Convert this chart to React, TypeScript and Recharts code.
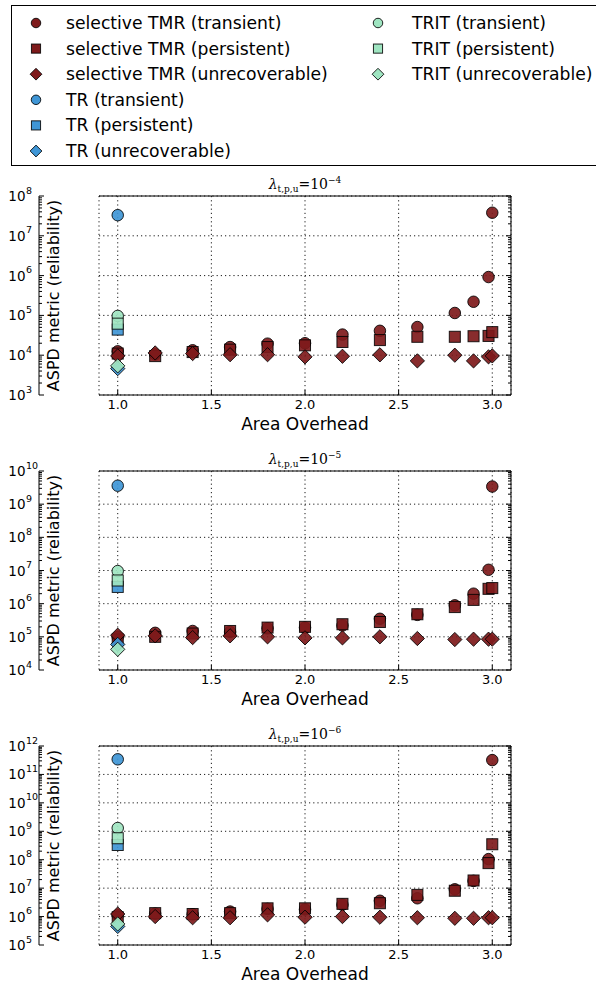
import React from 'react';
import { ScatterChart, Scatter, XAxis, YAxis, CartesianGrid } from 'recharts';

// x positions (area overhead)
const areaTMR = [1.0, 1.2, 1.4, 1.6, 1.8, 2.0, 2.2, 2.4, 2.6, 2.8, 2.9, 2.98, 3.0];
const areaBase = [1.0];
const xTicks = [1.0, 1.5, 2.0, 2.5, 3.0];
const xTickLabels = ['1.0', '1.5', '2.0', '2.5', '3.0'];

// lambda = 1e-4
const tmrTransient4 = [1.25e4, 1.05e4, 1.33e4, 1.6e4, 1.95e4, 2.0e4, 3.3e4, 4.1e4, 5.1e4, 1.15e5, 2.2e5, 9.2e5, 3.8e7];
const tmrPersistent4 = [1.1e4, 9.5e3, 1.2e4, 1.38e4, 1.6e4, 1.77e4, 2.15e4, 2.4e4, 2.9e4, 2.9e4, 3.0e4, 3.05e4, 3.8e4];
const tmrUnrec4 = [9.6e3, 1.14e4, 1.1e4, 1.03e4, 1.03e4, 9.1e3, 9.4e3, 1.02e4, 7.2e3, 1.0e4, 7.2e3, 9.1e3, 9.6e3];
const tr4 = [3.3e7, 4.4e4, 4.6e3];
const trit4 = [9.7e4, 6.2e4, 5.4e3];

// lambda = 1e-5
const tmrTransient5 = [1.0e5, 1.32e5, 1.5e5, 1.4e5, 1.8e5, 1.9e5, 2.2e5, 3.5e5, 4.6e5, 8.9e5, 2.0e6, 1.05e7, 3.4e9];
const tmrPersistent5 = [8.3e4, 1.0e5, 1.26e5, 1.5e5, 1.9e5, 2.0e5, 2.4e5, 2.8e5, 4.8e5, 7.9e5, 1.3e6, 2.8e6, 2.95e6];
const tmrUnrec5 = [1.12e5, 1.07e5, 9.5e4, 1.07e5, 1.0e5, 9.3e4, 9.3e4, 1.0e5, 8.9e4, 8.3e4, 8.5e4, 8.5e4, 8.5e4];
const tr5 = [3.6e9, 3.2e6, 5.9e4];
const trit5 = [9.6e6, 5.0e6, 4.2e4];

// lambda = 1e-6
const tmrTransient6 = [1.12e6, 1.26e6, 1.2e6, 1.5e6, 1.86e6, 1.78e6, 2.6e6, 3.6e6, 4.4e6, 9.1e6, 1.8e7, 1.05e8, 3.2e11];
const tmrPersistent6 = [9.5e5, 1.32e6, 1.23e6, 1.32e6, 1.95e6, 1.95e6, 2.8e6, 2.95e6, 5.8e6, 8.1e6, 1.86e7, 7.6e7, 3.5e8];
const tmrUnrec6 = [1.23e6, 1.0e6, 9.1e5, 9.1e5, 1.15e6, 9.5e5, 1.0e6, 9.5e5, 9.1e5, 8.7e5, 8.7e5, 9.1e5, 9.1e5];
const tr6 = [3.4e11, 3.3e8, 4.5e5];
const trit6 = [1.3e9, 5.7e8, 5.5e5];

const lambdaExps = ['\u22124', '\u22125', '\u22126'];
const yExpRanges = [[3, 8], [4, 10], [5, 12]];

const TMR = '#7e1a1b';
const TR = '#3f96d6';
const TRIT = '#9fe5c1';

type Kind = 'circle' | 'square' | 'diamond';
type Series = { name: string; color: string; kind: Kind; x: number[]; y: number[] };

const kinds: Kind[] = ['circle', 'square', 'diamond'];
const modes = ['transient', 'persistent', 'unrecoverable'];

function buildSeries(t: number[], p: number[], u: number[], tr: number[], trit: number[]): Series[] {
  const out: Series[] = [];
  [t, p, u].forEach((vals, i) =>
    out.push({ name: `selective TMR (${modes[i]})`, color: TMR, kind: kinds[i], x: areaTMR, y: vals })
  );
  tr.forEach((v, i) => out.push({ name: `TR (${modes[i]})`, color: TR, kind: kinds[i], x: areaBase, y: [v] }));
  trit.forEach((v, i) => out.push({ name: `TRIT (${modes[i]})`, color: TRIT, kind: kinds[i], x: areaBase, y: [v] }));
  return out;
}

const panels = [
  buildSeries(tmrTransient4, tmrPersistent4, tmrUnrec4, tr4, trit4),
  buildSeries(tmrTransient5, tmrPersistent5, tmrUnrec5, tr5, trit5),
  buildSeries(tmrTransient6, tmrPersistent6, tmrUnrec6, tr6, trit6),
];

// layout
const PLOT_LEFT = 99;
const PLOT_W = 412;
const PLOT_H = 199;
const M_TOP = 30;
const M_BOTTOM = 41;
const panelTops = [196, 471, 746];
const CHART_H = M_TOP + PLOT_H + M_BOTTOM;

const FONT = '"DejaVu Sans", sans-serif';

function Marker({ kind, cx, cy, s, color, opacity = 0.92 }: { kind: Kind; cx: number; cy: number; s: number; color: string; opacity?: number }) {
  const common = { fill: color, fillOpacity: opacity, stroke: '#000', strokeOpacity: 0.85, strokeWidth: 1 };
  if (kind === 'circle') return <circle cx={cx} cy={cy} r={s / 2} {...common} />;
  if (kind === 'square') {
    const h = s * 0.48;
    return <rect x={cx - h} y={cy - h} width={2 * h} height={2 * h} {...common} />;
  }
  const d = s * 0.62;
  return <polygon points={`${cx},${cy - d} ${cx + d},${cy} ${cx},${cy + d} ${cx - d},${cy}`} {...common} />;
}

const MAJOR = 5;
const MINOR = 3;

function minorTicks(lo: number, hi: number) {
  const out: number[] = [];
  for (let e = lo; e < hi; e++) for (let m = 2; m <= 9; m++) out.push(m * Math.pow(10, e));
  return out;
}

const isMajor = (v: number) => Math.abs(Math.log10(v) - Math.round(Math.log10(v))) < 1e-6;

function Panel({ series, idx }: { series: Series[]; idx: number }) {
  const [lo, hi] = yExpRanges[idx];
  const majors: number[] = [];
  for (let e = lo; e <= hi; e++) majors.push(Math.pow(10, e));
  const allTicks = [...majors, ...minorTicks(lo, hi)];
  const domain = [majors[0], majors[majors.length - 1]];

  const leftTick = (p: any) => {
    const v = p.payload.value;
    if (!isMajor(v)) return <line x1={p.x} x2={p.x + MINOR} y1={p.y} y2={p.y} stroke="#000" />;
    const e = Math.round(Math.log10(v));
    return (
      <g>
        <line x1={p.x} x2={p.x + MAJOR} y1={p.y} y2={p.y} stroke="#000" />
        <text x={p.x - 13.5} y={p.y + 5} textAnchor="end" fontFamily={FONT} fontSize={13.5} fill="#000">10</text>
        <text x={p.x - 13} y={p.y - 2.5} textAnchor="start" fontFamily={FONT} fontSize={9.5} fill="#000">{e}</text>
      </g>
    );
  };
  const rightTick = (p: any) => {
    const len = isMajor(p.payload.value) ? MAJOR : MINOR;
    return <line x1={p.x - len} x2={p.x} y1={p.y} y2={p.y} stroke="#000" />;
  };
  const bottomTick = (p: any) => {
    const i = xTicks.indexOf(p.payload.value);
    return (
      <g>
        <line x1={p.x} x2={p.x} y1={p.y} y2={p.y - MAJOR} stroke="#000" />
        <text x={p.x} y={p.y + 14} textAnchor="middle" fontFamily={FONT} fontSize={13} fill="#000">
          {xTickLabels[i]}
        </text>
      </g>
    );
  };
  const topTick = (p: any) => <line x1={p.x} x2={p.x} y1={p.y} y2={p.y + MAJOR} stroke="#000" />;

  const axisLine = { stroke: '#000', strokeWidth: 1 };

  return (
    <div style={{ position: 'absolute', left: 0, top: panelTops[idx] - M_TOP }}>
      <ScatterChart
        width={596}
        height={CHART_H}
        margin={{ top: M_TOP - 1, right: 596 - PLOT_LEFT - PLOT_W - 1, bottom: M_BOTTOM - 1, left: PLOT_LEFT - 1 }}
      >
        <CartesianGrid xAxisId="x" yAxisId="grid" stroke="#000" strokeDasharray="1.2 3" strokeWidth={0.9} />
        <XAxis xAxisId="x" type="number" dataKey="x" domain={[0.9, 3.1]} ticks={xTicks} allowDataOverflow
          height={1} tickSize={0} tickMargin={0} interval={0} tickLine={false} axisLine={axisLine} tick={bottomTick} />
        <XAxis xAxisId="top" orientation="top" type="number" domain={[0.9, 3.1]} ticks={xTicks} allowDataOverflow
          height={1} tickSize={0} tickMargin={0} interval={0} tickLine={false} axisLine={axisLine} tick={topTick} />
        <YAxis yAxisId="y" type="number" dataKey="y" scale="log" domain={domain} ticks={allTicks} allowDataOverflow
          width={1} tickSize={0} tickMargin={0} interval={0} tickLine={false} axisLine={axisLine} tick={leftTick} />
        <YAxis yAxisId="grid" type="number" scale="log" domain={domain} ticks={majors} allowDataOverflow hide />
        <YAxis yAxisId="yr" orientation="right" type="number" scale="log" domain={domain} ticks={allTicks}
          allowDataOverflow width={1} tickSize={0} tickMargin={0} interval={0} tickLine={false} axisLine={axisLine} tick={rightTick} />
        {series.map((s) => (
          <Scatter
            key={s.name}
            name={s.name}
            xAxisId="x"
            yAxisId="y"
            data={s.x.map((x, i) => ({ x, y: s.y[i] }))}
            isAnimationActive={false}
            shape={(p: any) =>
              p.cx == null || p.cy == null ? <g /> : <Marker kind={s.kind} cx={p.cx} cy={p.cy} s={11.5} color={s.color} />
            }
          />
        ))}
      </ScatterChart>
    </div>
  );
}

function Overlay() {
  const legend = panels[0];
  const col1 = legend.slice(0, 6);
  const col2 = legend.slice(6);
  const rowY = (i: number) => 23 + i * 25.6;
  const cx = PLOT_LEFT + PLOT_W / 2;
  const cy = (t: number) => t + PLOT_H / 2;
  return (
    <svg width={596} height={982} style={{ position: 'absolute', left: 0, top: 0, pointerEvents: 'none' }}>
      <rect x={11.5} y={5.5} width={620} height={160} fill="none" stroke="#000" strokeWidth={1} />
      {col1.map((s, i) => (
        <g key={s.name}>
          <Marker kind={s.kind} cx={36} cy={rowY(i)} s={9.5} color={s.color} opacity={1} />
          <text x={66} y={rowY(i) + 6} fontFamily={FONT} fontSize={17.2} fill="#000">{s.name}</text>
        </g>
      ))}
      {col2.map((s, i) => (
        <g key={s.name}>
          <Marker kind={s.kind} cx={378} cy={rowY(i)} s={9.5} color={s.color} opacity={1} />
          <text x={412} y={rowY(i) + 6} fontFamily={FONT} fontSize={17.2} fill="#000">{s.name}</text>
        </g>
      ))}
      {panelTops.map((t, i) => (
        <g key={i}>
          <text x={cx} y={t - 7} textAnchor="middle" fontFamily='"DejaVu Serif", serif' fontSize={14} fill="#000">
            <tspan fontStyle="italic">λ</tspan>
            <tspan fontSize={9} dy={3}>t,p,u</tspan>
            <tspan dy={-3}>=10</tspan>
            <tspan fontSize={9} dy={-6}>{lambdaExps[i]}</tspan>
          </text>
          <text transform={`translate(58.5, ${cy(t)}) rotate(-90)`} textAnchor="middle" fontFamily={FONT} fontSize={16} fill="#000">
            ASPD metric (reliability)
          </text>
          <text x={cx} y={t + PLOT_H + 34.5} textAnchor="middle" fontFamily={FONT} fontSize={17} fill="#000">
            Area Overhead
          </text>
        </g>
      ))}
    </svg>
  );
}

export default function App() {
  return (
    <div style={{ position: 'absolute', left: 0, top: 0, width: 596, height: 982, background: '#fff' }}>
      {panels.map((s, i) => (
        <Panel key={i} series={s} idx={i} />
      ))}
      <Overlay />
    </div>
  );
}
